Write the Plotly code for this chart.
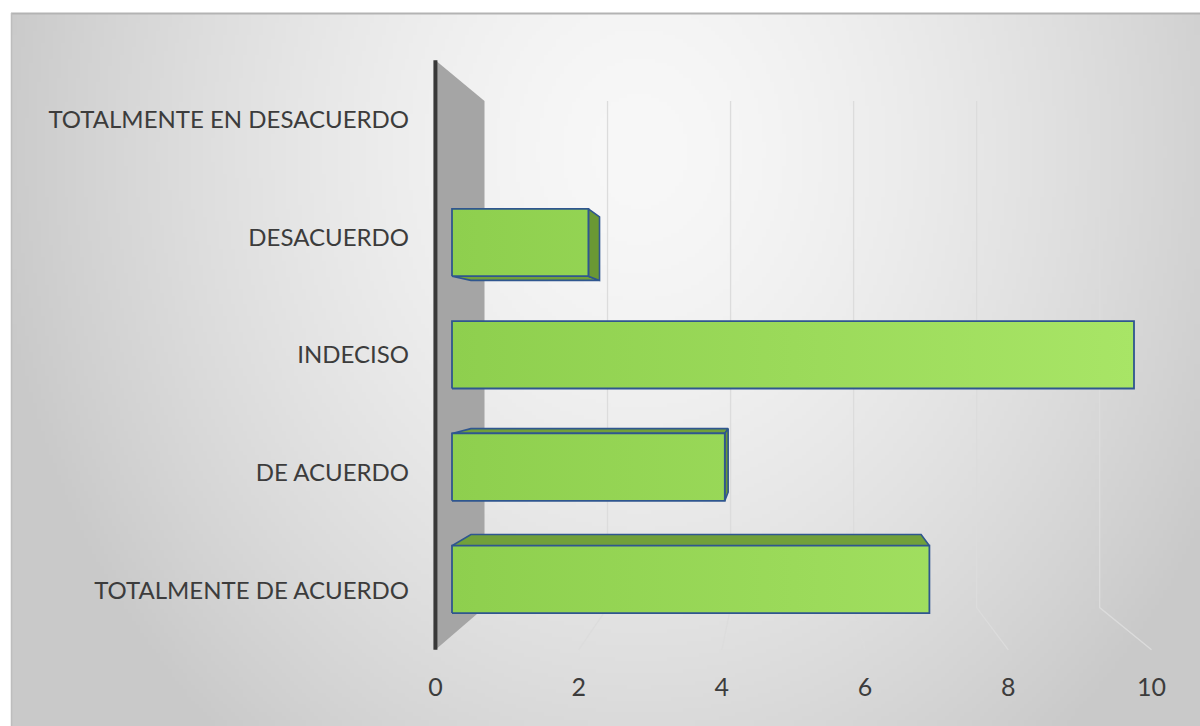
import base64
import struct
import zlib

import numpy as np
import plotly.graph_objects as go

# ---------------- data ----------------
categories = ["TOTALMENTE DE ACUERDO", "DE ACUERDO", "INDECISO", "DESACUERDO", "TOTALMENTE EN DESACUERDO"]
values = [7, 4, 10, 2, 0]
tick_values = [0, 2, 4, 6, 8, 10]
tick_labels = ["0", "2", "4", "6", "8", "10"]

# ---------------- geometry / style ----------------
W, H = 1200, 726
X0_PX, U_PX = 452.0, 68.2      # bar-front plane: value 0 pixel, pixels per unit
Y0_PX, V_PX = 579.4, 112.3     # bar-front plane: category 0 pixel, pixels per category
VP_PX = (783.7, 350.0)         # perspective vanishing point
K_FRONT, K_BAR_BACK, K_WALL = 1.05, 0.943, 0.902
BAR_HALF = 0.3
V_MIN, V_MAX = -0.5, len(categories) - 0.5
M_L, M_R, M_T, M_B = 410, 14, 14, 56

FRONT = "#8ecf4e"
FRONT_LIGHT = "#a8e566"
TOP = "#71a03a"
SIDE = "#6a9834"
EDGE = "#2f568f"
FONT = "Lato"
TXT = "#3c3c3c"


def u_of(px):
    return (px - X0_PX) / U_PX


def v_of(py):
    return (Y0_PX - py) / V_PX


VPU, VPV = u_of(VP_PX[0]), v_of(VP_PX[1])


def proj(u, v, k):
    return VPU + k * (u - VPU), VPV + k * (v - VPV)


def path(points, close=True):
    s = "M " + " L ".join(f"{x:.5f},{y:.5f}" for x, y in points)
    return s + (" Z" if close else "")


# ---------------- background gradient image ----------------
def gradient_uri(w=300, h=180):
    yy, xx = np.mgrid[0:h, 0:w].astype(float)
    X = 11 + xx * (W - 11) / (w - 1)
    Y = 13 + yy * (H - 13) / (h - 1)
    d = np.sqrt(((X - 640) / 570) ** 2 + ((Y - 150) / 680) ** 2)
    t = np.clip(d / 1.15, 0, 1) ** 1.5
    c = (248 - 47 * t).astype(np.uint8)
    raw = b"".join(b"\x00" + c[i].tobytes() for i in range(h))

    def chunk(tag, data):
        body = tag + data
        return struct.pack(">I", len(data)) + body + struct.pack(">I", zlib.crc32(body) & 0xFFFFFFFF)

    png = (b"\x89PNG\r\n\x1a\n" + chunk(b"IHDR", struct.pack(">IIBBBBB", w, h, 8, 0, 0, 0, 0))
           + chunk(b"IDAT", zlib.compress(raw, 9)) + chunk(b"IEND", b""))
    return "data:image/png;base64," + base64.b64encode(png).decode()


PW, PH = W - M_L - M_R, H - M_T - M_B


def xp(px):
    return (px - M_L) / PW


def yp(py):
    return 1 - (py - M_T) / PH


# ---------------- figure ----------------
fig = go.Figure()

# front faces of the bars
fig.add_trace(go.Bar(
    y=list(range(len(categories))), x=values, base=0, orientation="h", width=2 * BAR_HALF,
    marker=dict(color=FRONT, line=dict(width=0)), hoverinfo="skip", showlegend=False,
))

top_x, top_y, side_x, side_y, bot_x, bot_y = [], [], [], [], [], []
sheen_x, sheen_y, edge_x, edge_y = [], [], [], []
for i, val in enumerate(values):
    if val <= 0:
        continue
    lo, hi = i - BAR_HALF, i + BAR_HALF
    if hi < VPV:  # top face visible
        pts = [(0, hi), (val, hi), proj(val, hi, K_BAR_BACK), proj(0, hi, K_BAR_BACK), (0, hi)]
        top_x += [p[0] for p in pts] + [None]
        top_y += [p[1] for p in pts] + [None]
    if lo > VPV:  # bottom face visible
        pts = [(0, lo), (val, lo), proj(val, lo, K_BAR_BACK), proj(0, lo, K_BAR_BACK), (0, lo)]
        bot_x += [p[0] for p in pts] + [None]
        bot_y += [p[1] for p in pts] + [None]
    if val < VPU:  # end face visible
        pts = [(val, lo), (val, hi), proj(val, hi, K_BAR_BACK), proj(val, lo, K_BAR_BACK), (val, lo)]
        side_x += [p[0] for p in pts] + [None]
        side_y += [p[1] for p in pts] + [None]
    rect = [(0, lo), (val, lo), (val, hi), (0, hi), (0, lo)]
    sheen_x += [p[0] for p in rect] + [None]
    sheen_y += [p[1] for p in rect] + [None]
    edge_x += [p[0] for p in rect] + [None]
    edge_y += [p[1] for p in rect] + [None]

for fx, fy, col in [(top_x, top_y, TOP), (bot_x, bot_y, TOP), (side_x, side_y, SIDE)]:
    if fx:
        fig.add_trace(go.Scatter(x=fx, y=fy, mode="lines", fill="toself", fillcolor=col,
                                 line=dict(color=EDGE, width=1.6), hoverinfo="skip", showlegend=False))

# horizontal colour gradient across the front faces
fig.add_trace(go.Scatter(
    x=sheen_x, y=sheen_y, mode="none", fill="toself",
    fillgradient=dict(type="horizontal", start=0, stop=max(tick_values),
                      colorscale=[[0, FRONT], [1, FRONT_LIGHT]]),
    hoverinfo="skip", showlegend=False,
))
fig.add_trace(go.Scatter(x=edge_x, y=edge_y, mode="lines", line=dict(color=EDGE, width=1.8),
                         hoverinfo="skip", showlegend=False))

# side wall, gridlines and axis line (below the bars)
shapes = []
wall = [proj(0, V_MIN, K_FRONT), proj(0, V_MAX, K_FRONT), proj(0, V_MAX, K_WALL), proj(0, V_MIN, K_WALL)]
shapes.append(dict(type="path", xref="x", yref="y", path=path(wall), fillcolor="#a5a5a5",
                   line=dict(width=0), layer="below"))
for t in tick_values[1:]:
    pts = [proj(t, V_MAX, K_WALL), proj(t, V_MIN, K_WALL), proj(t, V_MIN, K_FRONT)]
    shapes.append(dict(type="path", xref="x", yref="y", path=path(pts, close=False),
                       line=dict(color="#dcdcdc", width=1.3), layer="below"))
a0, a1 = proj(0, V_MIN, K_FRONT), proj(0, V_MAX, K_FRONT)
shapes.append(dict(type="line", xref="x", yref="y", x0=a0[0], y0=a0[1], x1=a1[0], y1=a1[1],
                   line=dict(color="#383838", width=4), layer="below"))
# chart frame
shapes.append(dict(type="line", xref="paper", yref="paper", x0=xp(11), x1=xp(W), y0=yp(13.5), y1=yp(13.5),
                   line=dict(color="#b3b3b3", width=2), layer="above"))
shapes.append(dict(type="line", xref="paper", yref="paper", x0=xp(11.5), x1=xp(11.5), y0=yp(13), y1=yp(H),
                   line=dict(color="#bdbdbd", width=1.5), layer="above"))

fig.update_layout(
    width=W, height=H,
    margin=dict(l=M_L, r=M_R, t=M_T, b=M_B, autoexpand=False),
    paper_bgcolor="white", plot_bgcolor="rgba(0,0,0,0)",
    showlegend=False, shapes=shapes,
    images=[dict(source=gradient_uri(), xref="paper", yref="paper", x=xp(11), y=yp(13),
                 sizex=(W - 11) / PW, sizey=(H - 13) / PH, xanchor="left", yanchor="top",
                 sizing="stretch", layer="below")],
    xaxis=dict(range=[u_of(M_L), u_of(W - M_R)], showgrid=False, zeroline=False, showline=False,
               tickmode="array", tickvals=[proj(t, 0, K_FRONT)[0] for t in tick_values],
               ticktext=tick_labels, ticks="", tickfont=dict(family=FONT, size=25, color=TXT),
               fixedrange=True),
    yaxis=dict(range=[v_of(H - M_B), v_of(M_T)], showgrid=False, zeroline=False, showline=False,
               tickmode="array", tickvals=[proj(0, i, K_FRONT)[1] for i in range(len(categories))],
               ticktext=categories, ticks="", tickfont=dict(family=FONT, size=24, color=TXT),
               fixedrange=True),
    font=dict(family=FONT, color=TXT),
)

fig.write_html("out.html", config={"displayModeBar": False},
               post_script="document.body.style.margin='0';")
